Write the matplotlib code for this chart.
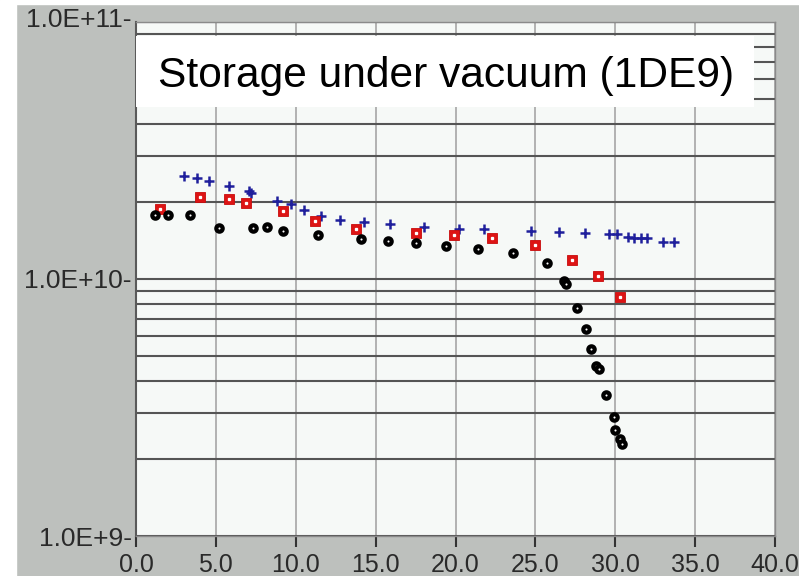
################################################################################
import numpy as np;
import matplotlib;
matplotlib.use('Agg');
import matplotlib.pyplot as plt;
from matplotlib import ticker;
from matplotlib.patches import Rectangle;
from matplotlib.transforms import ScaledTranslation;
################################################################################
# values
circ_x = [1.2, 2.0, 3.4, 5.2, 7.3, 8.2, 9.2, 11.4, 14.1, 15.8, 17.5, 19.4,
          21.4, 23.6, 25.7, 26.8, 26.9, 27.6, 28.2, 28.5, 28.8, 29.0, 29.4,
          29.9, 30.0, 30.3, 30.4];
circ_y = [1.77e10, 1.77e10, 1.77e10, 1.58e10, 1.58e10, 1.59e10, 1.54e10,
          1.48e10, 1.43e10, 1.40e10, 1.38e10, 1.35e10, 1.31e10, 1.26e10,
          1.15e10, 9.84e9, 9.57e9, 7.73e9, 6.37e9, 5.32e9, 4.58e9, 4.45e9,
          3.53e9, 2.90e9, 2.58e9, 2.38e9, 2.29e9];
sq_x = [1.5, 4.0, 5.8, 6.9, 9.2, 11.2, 13.8, 17.5, 19.9, 22.3, 25.0, 27.3,
        28.9, 30.3];
sq_y = [1.87e10, 2.08e10, 2.04e10, 1.97e10, 1.84e10, 1.68e10, 1.56e10,
        1.51e10, 1.48e10, 1.45e10, 1.36e10, 1.19e10, 1.03e10, 8.5e9];
plus_x = [3.0, 3.8, 4.6, 5.8, 7.1, 7.2, 8.8, 9.7, 10.5, 11.6, 12.8, 14.3,
          15.9, 18.0, 20.2, 21.8, 24.7, 26.5, 28.1, 29.6, 30.1, 30.8, 31.2,
          31.6, 32.0, 33.0, 33.7];
plus_y = [2.51e10, 2.47e10, 2.41e10, 2.30e10, 2.20e10, 2.16e10, 2.02e10,
          1.96e10, 1.85e10, 1.76e10, 1.69e10, 1.66e10, 1.63e10, 1.60e10,
          1.57e10, 1.57e10, 1.54e10, 1.52e10, 1.51e10, 1.49e10, 1.49e10,
          1.46e10, 1.44e10, 1.44e10, 1.44e10, 1.39e10, 1.39e10];
xtick_vals = [0, 5, 10, 15, 20, 25, 30, 35, 40];
xtick_labels = ["0.0", "5.0", "10.0", "15.0", "20.0", "25.0", "30.0", "35.0", "40.0"];
ytick_vals = [1e9, 1e10, 1e11];
ytick_labels = ["1.0E+9-", "1.0E+10-", "1.0E+11-"];
title = "Storage under vacuum (1DE9)";
################################################################################
styles = {
    'circ': {
        'ls'        : 'none',
        'marker'    : 'o',
        'ms'        : 4.6,
        'mfc'       : 'white',
        'mec'       : 'black',
        'mew'       : 3.0,
        'zorder'    : 2,
    },
    'sq': {
        'ls'        : 'none',
        'marker'    : 's',
        'ms'        : 7.2,
        'mfc'       : '#dd1414',
        'mec'       : '#c80c0c',
        'mew'       : 0.6,
        'zorder'    : 2,
    },
    'sq_dot': {
        'ls'        : 'none',
        'marker'    : 's',
        'ms'        : 1.4,
        'color'     : 'white',
        'zorder'    : 2.1,
    },
    'plus': {
        'ls'        : 'none',
        'marker'    : '+',
        'ms'        : 7,
        'mew'       : 1.8,
        'color'     : '#1f1f9c',
        'zorder'    : 2,
    },
};
plt.rcParams['font.family'] = ['Liberation Sans', 'DejaVu Sans'];
################################################################################
fig = plt.figure(figsize=(7.99, 5.76), dpi=100, facecolor='#bdc0bd');
# white strips left and top
fig.patches.append(Rectangle((0, 0), 16/799, 1, transform=fig.transFigure,
                             color='white', zorder=0));
fig.patches.append(Rectangle((0, 1-4/576), 1, 4/576, transform=fig.transFigure,
                             color='white', zorder=0));
ax = fig.add_axes([136/799, 40/576, 639/799, 514/576]);
ax.set_facecolor('#f6f9f7');
ax.set_yscale('log');
ax.set_xlim(0, 40);
ax.set_ylim(1e9, 1e11);
ax.yaxis.set_major_locator(ticker.FixedLocator(ytick_vals));
ax.yaxis.set_major_formatter(ticker.FixedFormatter(ytick_labels));
ax.yaxis.set_minor_locator(ticker.LogLocator(base=10, subs=np.arange(2, 10)));
ax.yaxis.set_minor_formatter(ticker.NullFormatter());
ax.set_xticks(xtick_vals, xtick_labels);
ax.set_axisbelow(True);
ax.grid(True, axis='y', which='both', color='#555555', lw=1.5);
ax.grid(True, axis='x', which='major', color='#b2b2b2', lw=1.4);
ax.tick_params(axis='y', which='both', length=0, pad=3, labelsize=19,
               labelcolor='#2a2a2a');
ax.tick_params(axis='x', which='major', length=8, width=1.5, color='#333333',
               pad=4, labelsize=18, labelcolor='#2a2a2a');
for side in ['top', 'right', 'bottom']:
    ax.spines[side].set_color('#8a8a8a');
    ax.spines[side].set_linewidth(1);
ax.spines['left'].set_color('#5a5a5a');
ax.spines['left'].set_linewidth(1.5);
# top label sits a few pixels higher in the original
toplab = ax.get_yticklabels()[2];
toplab.set_transform(toplab.get_transform() + ScaledTranslation(0, 3/72, fig.dpi_scale_trans));
################################################################################
ax.plot(plus_x, plus_y, **styles['plus']);
ax.plot(sq_x, sq_y, **styles['sq']);
ax.plot(sq_x, sq_y, **styles['sq_dot']);
ax.plot(circ_x, circ_y, **styles['circ']);
# title box
ax.add_patch(Rectangle((0, 0.8346), 0.9671, 0.1382, transform=ax.transAxes,
                       facecolor='white', edgecolor='none', zorder=3));
ax.text(0.0344, 0.8735, title, transform=ax.transAxes, fontsize=30.6,
        va='baseline', ha='left', color='black', zorder=4);
fig.savefig('out.png', dpi=100, facecolor=fig.get_facecolor());
